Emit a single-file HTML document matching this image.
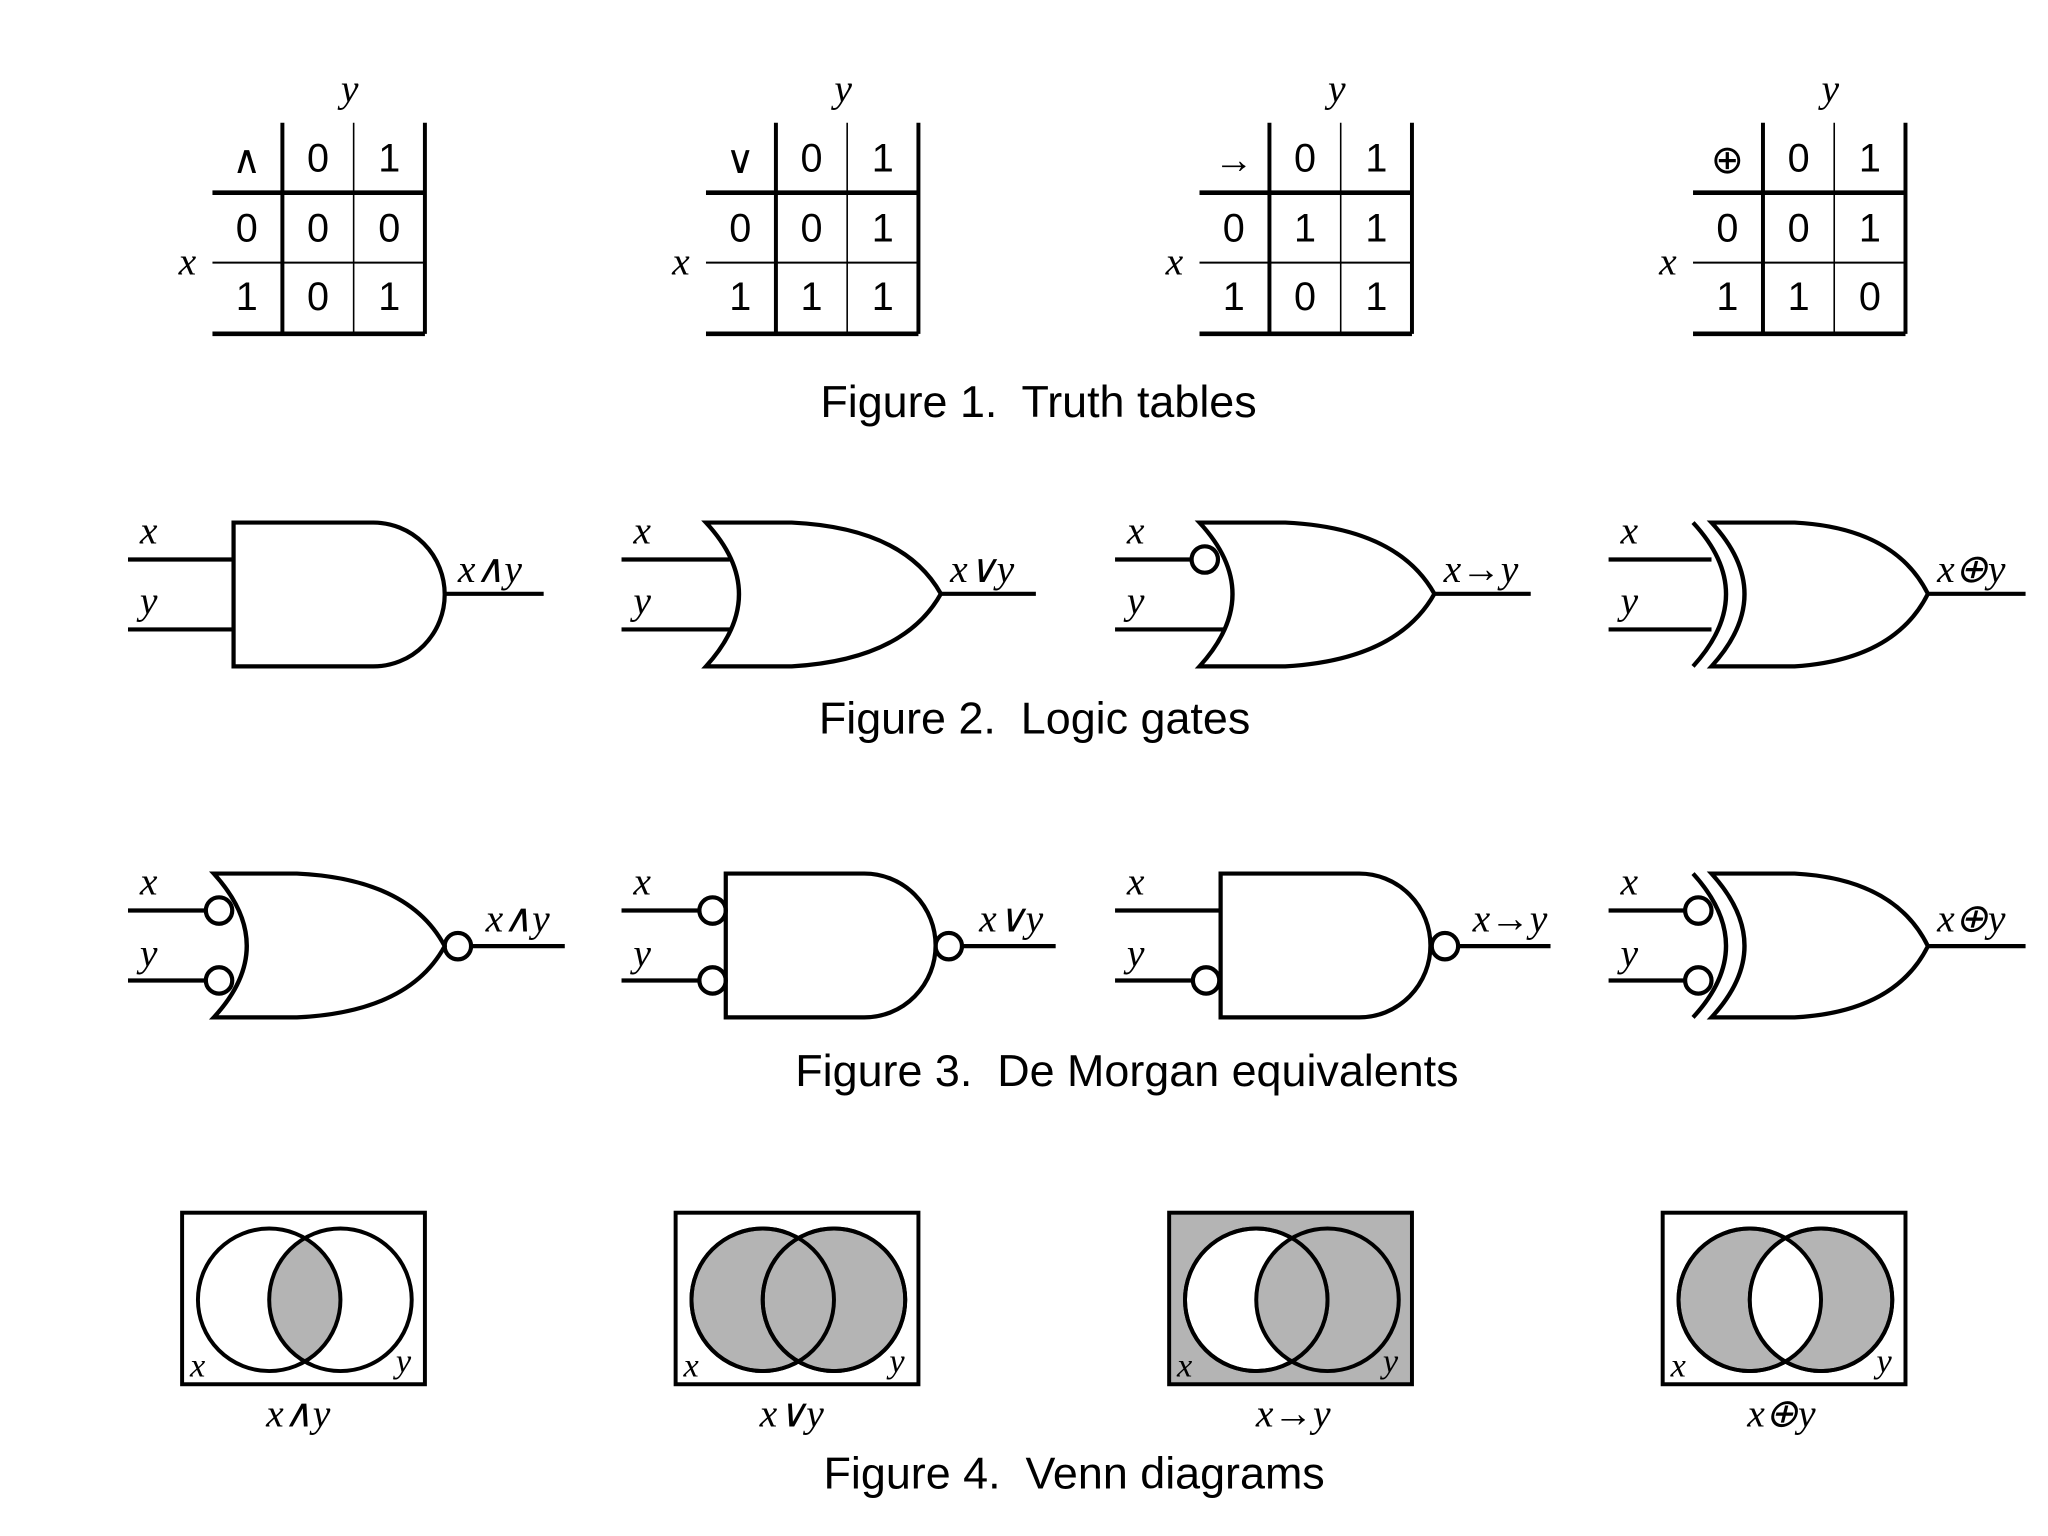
<!DOCTYPE html>
<html><head><meta charset="utf-8"><style>
html,body{margin:0;padding:0;background:#fff;}
svg{display:block;}
.v{font-family:"Liberation Serif",serif;font-style:italic;font-size:30px;}
.d{font-family:"Liberation Sans",sans-serif;font-size:30px;}
.c{font-family:"Liberation Sans",sans-serif;font-size:34px;}
.o{font-family:"Liberation Serif",serif;font-size:30px;}
</style></head><body>
<svg width="2048" height="1536" viewBox="0 0 1552 1164" xmlns="http://www.w3.org/2000/svg">
<defs>
<g id="tt" fill="none" stroke="#000">
<line x1="214" y1="93" x2="214" y2="253" stroke-width="3"/>
<line x1="268" y1="93" x2="268" y2="253" stroke-width="1.2"/>
<line x1="322" y1="93" x2="322" y2="253" stroke-width="3"/>
<line x1="161" y1="146" x2="322" y2="146" stroke-width="3.5"/>
<line x1="161" y1="199" x2="322" y2="199" stroke-width="1.5"/>
<line x1="161" y1="253" x2="322" y2="253" stroke-width="3.5"/>
</g>
</defs>
<g>
<!-- truth tables -->
<g>
<use href="#tt"/>
<text class="v" x="265" y="77" text-anchor="middle">y</text>
<text class="v" x="142" y="208" text-anchor="middle">x</text>
<text class="o" x="187" y="131" text-anchor="middle">∧</text>
<g class="d" text-anchor="middle"><text x="241" y="130">0</text><text x="295" y="130">1</text>
<text x="187" y="183">0</text><text x="241" y="183">0</text><text x="295" y="183">0</text>
<text x="187" y="235">1</text><text x="241" y="235">0</text><text x="295" y="235">1</text></g>
</g>
<g transform="translate(374,0)">
<use href="#tt"/>
<text class="v" x="265" y="77" text-anchor="middle">y</text>
<text class="v" x="142" y="208" text-anchor="middle">x</text>
<text class="o" x="187" y="131" text-anchor="middle">∨</text>
<g class="d" text-anchor="middle"><text x="241" y="130">0</text><text x="295" y="130">1</text>
<text x="187" y="183">0</text><text x="241" y="183">0</text><text x="295" y="183">1</text>
<text x="187" y="235">1</text><text x="241" y="235">1</text><text x="295" y="235">1</text></g>
</g>
<g transform="translate(748,0)">
<use href="#tt"/>
<text class="v" x="265" y="77" text-anchor="middle">y</text>
<text class="v" x="142" y="208" text-anchor="middle">x</text>
<text class="o" x="187" y="131" text-anchor="middle">→</text>
<g class="d" text-anchor="middle"><text x="241" y="130">0</text><text x="295" y="130">1</text>
<text x="187" y="183">0</text><text x="241" y="183">1</text><text x="295" y="183">1</text>
<text x="187" y="235">1</text><text x="241" y="235">0</text><text x="295" y="235">1</text></g>
</g>
<g transform="translate(1122,0)">
<use href="#tt"/>
<text class="v" x="265" y="77" text-anchor="middle">y</text>
<text class="v" x="142" y="208" text-anchor="middle">x</text>
<text class="o" x="187" y="131" text-anchor="middle">⊕</text>
<g class="d" text-anchor="middle"><text x="241" y="130">0</text><text x="295" y="130">1</text>
<text x="187" y="183">0</text><text x="241" y="183">0</text><text x="295" y="183">1</text>
<text x="187" y="235">1</text><text x="241" y="235">1</text><text x="295" y="235">0</text></g>
</g>
<text class="c" x="787" y="316" text-anchor="middle" xml:space="preserve">Figure 1.  Truth tables</text>

<!-- gates row -->
<g fill="none" stroke="#000" stroke-width="3.2">
<!-- AND -->
<line x1="97" y1="424" x2="177" y2="424"/><line x1="97" y1="477" x2="177" y2="477"/>
<path d="M177,396 H283 A54,54.5 0 0 1 283,505 H177 Z"/>
<line x1="337" y1="450" x2="412" y2="450"/>
<!-- OR -->
<line x1="471" y1="424" x2="553" y2="424"/><line x1="471" y1="477" x2="553" y2="477"/>
<path d="M535,396 H600 Q685,400 713,450 Q685,500 600,505 H535 Q585,450 535,396 Z"/>
<line x1="713" y1="450" x2="785" y2="450"/>
<!-- IMPL -->
<line x1="845" y1="424" x2="903" y2="424"/><line x1="845" y1="477" x2="927" y2="477"/>
<circle cx="913" cy="424" r="10"/>
<path d="M909,396 H974 Q1059,400 1087,450 Q1059,500 974,505 H909 Q959,450 909,396 Z"/>
<line x1="1087" y1="450" x2="1160" y2="450"/>
<!-- XOR -->
<line x1="1219" y1="424" x2="1297" y2="424"/><line x1="1219" y1="477" x2="1297" y2="477"/>
<path d="M1283,396 Q1333,450 1283,505"/>
<path d="M1297,396 H1360 Q1436,400 1461,450 Q1436,500 1360,505 H1297 Q1347,450 1297,396 Z" fill="#fff"/>
<line x1="1461" y1="450" x2="1535" y2="450"/>
</g>
<g class="v">
<text x="106" y="412">x</text><text x="106" y="465">y</text><text x="347" y="441">x∧y</text>
<text x="480" y="412">x</text><text x="480" y="465">y</text><text x="720" y="441">x∨y</text>
<text x="854" y="412">x</text><text x="854" y="465">y</text><text x="1094" y="441">x→y</text>
<text x="1228" y="412">x</text><text x="1228" y="465">y</text><text x="1468" y="441">x⊕y</text>
</g>
<text class="c" x="784" y="556" text-anchor="middle" xml:space="preserve">Figure 2.  Logic gates</text>

<!-- De Morgan row -->
<g fill="none" stroke="#000" stroke-width="3.2">
<line x1="97" y1="690" x2="156" y2="690"/><line x1="97" y1="743" x2="156" y2="743"/>
<path d="M162,662 H225 Q310,666 337,717 Q310,767 225,771 H162 Q212,717 162,662 Z"/>
<circle cx="166" cy="690" r="10" fill="#fff"/><circle cx="166" cy="743" r="10" fill="#fff"/>
<circle cx="347" cy="717" r="10"/>
<line x1="357" y1="717" x2="428" y2="717"/>

<line x1="471" y1="690" x2="530" y2="690"/><line x1="471" y1="743" x2="530" y2="743"/>
<circle cx="540" cy="690" r="10"/><circle cx="540" cy="743" r="10"/>
<path d="M550,662 H655 A54,54.5 0 0 1 655,771 H550 Z"/>
<circle cx="719" cy="717" r="10"/>
<line x1="729" y1="717" x2="800" y2="717"/>

<line x1="845" y1="690" x2="925" y2="690"/><line x1="845" y1="743" x2="904" y2="743"/>
<circle cx="914" cy="743" r="10"/>
<path d="M925,662 H1030 A54,54.5 0 0 1 1030,771 H925 Z"/>
<circle cx="1095" cy="717" r="10"/>
<line x1="1105" y1="717" x2="1175" y2="717"/>

<line x1="1219" y1="690" x2="1277" y2="690"/><line x1="1219" y1="743" x2="1277" y2="743"/>
<path d="M1283,662 Q1333,717 1283,771"/>
<path d="M1297,662 H1360 Q1436,666 1461,717 Q1436,767 1360,771 H1297 Q1347,717 1297,662 Z" fill="#fff"/>
<circle cx="1287" cy="690" r="10" fill="#fff"/><circle cx="1287" cy="743" r="10" fill="#fff"/>
<line x1="1461" y1="717" x2="1535" y2="717"/>
</g>
<g class="v">
<text x="106" y="678">x</text><text x="106" y="732">y</text><text x="368" y="706">x∧y</text>
<text x="480" y="678">x</text><text x="480" y="732">y</text><text x="742" y="706">x∨y</text>
<text x="854" y="678">x</text><text x="854" y="732">y</text><text x="1116" y="706">x→y</text>
<text x="1228" y="678">x</text><text x="1228" y="732">y</text><text x="1468" y="706">x⊕y</text>
</g>
<text class="c" x="854" y="823" text-anchor="middle" xml:space="preserve">Figure 3.  De Morgan equivalents</text>

<!-- Venn -->
<defs>
<clipPath id="cl"><circle cx="204" cy="985" r="54"/></clipPath>
</defs>
<g stroke="#000" stroke-width="3">
<!-- 1 AND -->
<rect x="138" y="919" width="184" height="130" fill="#fff"/>
<circle cx="258" cy="985" r="54" fill="#b4b4b4" clip-path="url(#cl)" stroke="none"/>
<circle cx="204" cy="985" r="54" fill="none"/><circle cx="258" cy="985" r="54" fill="none"/>
<!-- 2 OR -->
<g transform="translate(374,0)">
<rect x="138" y="919" width="184" height="130" fill="#fff"/>
<circle cx="204" cy="985" r="54" fill="#b4b4b4"/><circle cx="258" cy="985" r="54" fill="#b4b4b4"/>
<circle cx="204" cy="985" r="54" fill="none"/><circle cx="258" cy="985" r="54" fill="none"/>
</g>
<!-- 3 IMPL -->
<g transform="translate(748,0)">
<rect x="138" y="919" width="184" height="130" fill="#b4b4b4"/>
<circle cx="204" cy="985" r="54" fill="#fff"/>
<circle cx="258" cy="985" r="54" fill="#b4b4b4" clip-path="url(#cl)" stroke="none"/>
<circle cx="204" cy="985" r="54" fill="none"/><circle cx="258" cy="985" r="54" fill="none"/>
</g>
<!-- 4 XOR -->
<g transform="translate(1122,0)">
<rect x="138" y="919" width="184" height="130" fill="#fff"/>
<circle cx="204" cy="985" r="54" fill="#b4b4b4"/><circle cx="258" cy="985" r="54" fill="#b4b4b4"/>
<circle cx="258" cy="985" r="54" fill="#fff" clip-path="url(#cl)" stroke="none"/>
<circle cx="204" cy="985" r="54" fill="none"/><circle cx="258" cy="985" r="54" fill="none"/>
</g>
</g>
<g class="v" font-size="26">
<text x="144" y="1043" style="font-size:26px">x</text><text x="300" y="1040" style="font-size:26px">y</text>
<text x="518" y="1043" style="font-size:26px">x</text><text x="674" y="1040" style="font-size:26px">y</text>
<text x="892" y="1043" style="font-size:26px">x</text><text x="1048" y="1040" style="font-size:26px">y</text>
<text x="1266" y="1043" style="font-size:26px">x</text><text x="1422" y="1040" style="font-size:26px">y</text>
<text x="226" y="1081" text-anchor="middle">x∧y</text>
<text x="600" y="1081" text-anchor="middle">x∨y</text>
<text x="980" y="1081" text-anchor="middle">x→y</text>
<text x="1350" y="1081" text-anchor="middle">x⊕y</text>
</g>
<text class="c" x="814" y="1128" text-anchor="middle" xml:space="preserve">Figure 4.  Venn diagrams</text>
</g>
</svg>
</body></html>
